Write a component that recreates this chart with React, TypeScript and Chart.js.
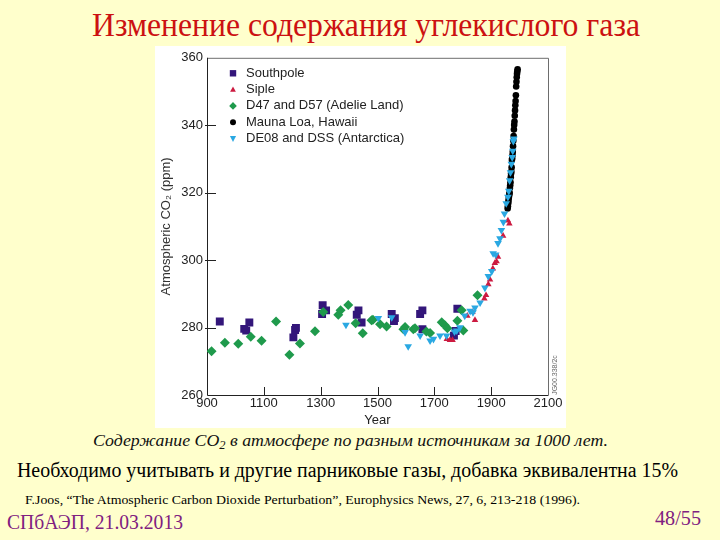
import React, { useEffect, useLayoutEffect, useRef } from 'react';
import { Chart, registerables } from 'chart.js';

Chart.register(...registerables);

// ---------- data ----------
const xTickValues = [900, 1100, 1300, 1500, 1700, 1900, 2100];
const yTickValues = [260, 280, 300, 320, 340, 360];

const southpoleYears = [945, 1031, 1038, 1049, 1204, 1210, 1213, 1305, 1307, 1319, 1427, 1433, 1444, 1550, 1558, 1561, 1650, 1658, 1658, 1769, 1775, 1781];
const southpoleCO2 = [281.8, 279.6, 279.1, 281.5, 277.1, 279.3, 279.9, 284.0, 286.6, 285.1, 283.8, 285.1, 281.5, 284.0, 281.9, 282.8, 284.0, 285.1, 279.5, 277.6, 279.0, 285.6];

const sipleYears = [1744, 1755, 1764, 1816, 1834, 1843, 1876, 1882, 1890, 1896, 1906, 1913, 1919, 1924, 1942, 1959, 1964];
const sipleCO2 = [276.6, 276.3, 276.3, 283.5, 284.6, 282.2, 288.6, 289.6, 292.8, 294.2, 297.5, 299.1, 299.6, 301.0, 307.2, 311.7, 310.8];

const adelieYears = [916, 963, 1010, 1054, 1092, 1143, 1190, 1227, 1280, 1309, 1362, 1370, 1397, 1423, 1448, 1479, 1484, 1509, 1532, 1591, 1597, 1626, 1632, 1672, 1685, 1726, 1737, 1746, 1781, 1796, 1802, 1852];
const adelieCO2 = [273.0, 275.5, 275.2, 277.3, 276.1, 281.8, 271.9, 275.3, 278.9, 284.6, 283.8, 285.1, 286.7, 281.3, 278.3, 282.2, 282.3, 281.0, 280.3, 279.5, 280.2, 279.5, 279.8, 278.8, 278.4, 281.6, 280.7, 279.8, 282.0, 285.1, 279.1, 289.6];

const maunaLoaYears = [1958, 1959, 1960, 1961, 1962, 1963, 1964, 1965, 1966, 1967, 1968, 1969, 1970, 1971, 1972, 1973, 1974, 1975, 1976, 1977, 1978, 1979, 1980, 1981, 1982, 1983, 1984, 1985, 1986, 1987, 1988, 1989, 1990, 1991, 1992, 1993];
const maunaLoaCO2 = [315.3, 316.0, 316.9, 317.6, 318.4, 319.0, 319.6, 320.0, 321.4, 322.2, 323.1, 324.6, 325.7, 326.3, 327.5, 329.7, 330.2, 331.1, 332.1, 333.8, 335.4, 336.8, 338.7, 340.1, 341.1, 342.8, 344.4, 345.9, 347.2, 348.9, 351.5, 352.9, 354.2, 355.3, 356.0, 356.6];

const de08Years = [1389, 1503, 1550, 1597, 1608, 1650, 1685, 1697, 1720, 1743, 1771, 1779, 1790, 1807, 1826, 1836, 1843, 1861, 1878, 1890, 1902, 1907, 1916, 1924, 1931, 1936, 1943, 1947, 1953, 1959, 1962, 1965, 1968, 1971, 1974, 1976, 1978, 1980];
const de08CO2 = [280.8, 282.8, 283.0, 278.6, 274.4, 277.6, 276.1, 276.6, 277.6, 277.6, 278.8, 279.1, 280.0, 283.5, 284.9, 284.5, 285.9, 287.4, 291.8, 295.2, 296.7, 302.0, 301.6, 305.0, 306.4, 308.9, 311.3, 313.8, 316.8, 318.7, 320.5, 323.6, 326.0, 328.5, 330.5, 332.4, 335.3, 336.0];

const seriesLabels = ['Southpole', 'Siple', 'D47 and D57 (Adelie Land)', 'Mauna Loa, Hawaii', 'DE08 and DSS (Antarctica)'];

const AXIS_FONT = "'Liberation Sans', Arial, sans-serif";

function pts(xs: number[], ys: number[]) {
  return xs.map((x, i) => ({ x, y: ys[i] }));
}

type Marker = 'rect' | 'tri' | 'diamond' | 'circle' | 'triDown';

function drawMarker(ctx: CanvasRenderingContext2D, kind: Marker, x: number, y: number, s: number, color: string) {
  ctx.save();
  ctx.fillStyle = color;
  ctx.beginPath();
  if (kind === 'rect') {
    ctx.rect(x - s, y - s, 2 * s, 2 * s);
  } else if (kind === 'circle') {
    ctx.arc(x, y, s, 0, Math.PI * 2);
  } else if (kind === 'diamond') {
    ctx.moveTo(x - s, y);
    ctx.lineTo(x, y - s);
    ctx.lineTo(x + s, y);
    ctx.lineTo(x, y + s);
    ctx.closePath();
  } else if (kind === 'tri') {
    ctx.moveTo(x, y - s);
    ctx.lineTo(x + s * 0.9, y + s * 0.7);
    ctx.lineTo(x - s * 0.9, y + s * 0.7);
    ctx.closePath();
  } else {
    ctx.moveTo(x, y + s);
    ctx.lineTo(x + s * 0.9, y - s * 0.7);
    ctx.lineTo(x - s * 0.9, y - s * 0.7);
    ctx.closePath();
  }
  ctx.fill();
  ctx.restore();
}

const COLORS = ['#33167a', '#cc1a40', '#1f9a4c', '#000000', '#2aa8e2'];
const LEGEND_MARKERS: Marker[] = ['rect', 'tri', 'diamond', 'circle', 'triDown'];
const LEGEND_SIZES = [3.2, 3.2, 3.8, 3, 3.4];

const framePlugin = {
  id: 'frameTicks',
  beforeDatasetsDraw(chart: any) {
    const { ctx, chartArea: a, scales } = chart;
    ctx.save();
    ctx.lineWidth = 1;
    ctx.strokeStyle = '#6d6d6d';
    ctx.beginPath();
    ctx.moveTo(a.left, a.top + 0.5);
    ctx.lineTo(a.right + 0.5, a.top + 0.5);
    ctx.lineTo(a.right + 0.5, a.bottom);
    ctx.stroke();
    ctx.strokeStyle = '#222';
    ctx.beginPath();
    ctx.moveTo(a.left + 0.5, a.top);
    ctx.lineTo(a.left + 0.5, a.bottom + 0.5);
    ctx.lineTo(a.right + 0.5, a.bottom + 0.5);
    ctx.stroke();
    ctx.beginPath();
    xTickValues.slice(1, -1).forEach((v) => {
      const px = Math.round(scales.x.getPixelForValue(v)) + 0.5;
      ctx.moveTo(px, a.bottom);
      ctx.lineTo(px, a.bottom - 8);
    });
    yTickValues.slice(1, -1).forEach((v) => {
      const py = Math.round(scales.y.getPixelForValue(v)) + 0.5;
      ctx.moveTo(a.left - 2, py);
      ctx.lineTo(a.left + 9, py);
    });
    ctx.stroke();
    ctx.restore();
  },
  afterDatasetsDraw(chart: any) {
    const { ctx, chartArea: a } = chart;
    ctx.save();
    ctx.font = `13px ${AXIS_FONT}`;
    ctx.textBaseline = 'middle';
    const mx = a.left + 26;
    const tx = a.left + 39;
    seriesLabels.forEach((lab, i) => {
      const y = a.top + 15.5 + i * 16.3;
      drawMarker(ctx, LEGEND_MARKERS[i], mx, y, LEGEND_SIZES[i], COLORS[i]);
      ctx.fillStyle = '#222';
      ctx.fillText(lab, tx, y);
    });
    ctx.translate(a.right + 7, a.bottom - 20);
    ctx.rotate(-Math.PI / 2);
    ctx.font = `7px ${AXIS_FONT}`;
    ctx.fillStyle = '#666';
    ctx.textAlign = 'center';
    ctx.fillText('JG00.338/2c', 0, 0);
    ctx.restore();
  },
};

function CO2Chart() {
  const ref = useRef<HTMLCanvasElement>(null);
  useEffect(() => {
    if (!ref.current) return;
    const common = { showLine: false, pointBorderWidth: 0, pointHoverRadius: 0 };
    const chart = new Chart(ref.current, {
      type: 'scatter',
      data: {
        datasets: [
          { ...common, label: seriesLabels[0], data: pts(southpoleYears, southpoleCO2), pointStyle: 'rect', pointRadius: 5.6, backgroundColor: COLORS[0], borderColor: COLORS[0], order: 5 },
          { ...common, label: seriesLabels[1], data: pts(sipleYears, sipleCO2), pointStyle: 'triangle', pointRadius: 3.8, backgroundColor: COLORS[1], borderColor: COLORS[1], order: 3 },
          { ...common, label: seriesLabels[2], data: pts(adelieYears, adelieCO2), pointStyle: 'rectRot', pointRadius: 5, backgroundColor: COLORS[2], borderColor: COLORS[2], order: 4 },
          { ...common, label: seriesLabels[3], data: pts(maunaLoaYears, maunaLoaCO2), pointStyle: 'circle', pointRadius: 3.3, backgroundColor: COLORS[3], borderColor: COLORS[3], order: 2 },
          { ...common, label: seriesLabels[4], data: pts(de08Years, de08CO2), pointStyle: 'triangle', rotation: 180, pointRadius: 4.4, backgroundColor: COLORS[4], borderColor: COLORS[4], order: 1 } as any,
        ],
      },
      options: {
        animation: false,
        responsive: false,
        maintainAspectRatio: false,
        events: [],
        layout: { padding: { left: 0, top: 8, right: 18, bottom: 0 } },
        plugins: { legend: { display: false }, tooltip: { enabled: false } },
        scales: {
          x: {
            type: 'linear',
            min: 900,
            max: 2100,
            afterBuildTicks: (s: any) => { s.ticks = xTickValues.map((v) => ({ value: v })); },
            afterFit: (s: any) => { s.height = 33; },
            grid: { display: false, drawTicks: false },
            border: { display: false },
            ticks: { autoSkip: false, maxRotation: 0, padding: 1, color: '#222', font: { family: AXIS_FONT, size: 13 }, callback: (v: any) => String(v) },
            title: { display: true, text: 'Year', color: '#222', padding: { top: 0, bottom: 0 }, font: { family: AXIS_FONT, size: 13 } },
          },
          y: {
            type: 'linear',
            min: 260,
            max: 360,
            afterBuildTicks: (s: any) => { s.ticks = yTickValues.map((v) => ({ value: v })); },
            afterFit: (s: any) => { s.width = 52; },
            grid: { display: false, drawTicks: false },
            border: { display: false },
            ticks: { autoSkip: false, padding: 4, color: '#222', font: { family: AXIS_FONT, size: 13 }, callback: (v: any) => String(v) },
            title: { display: true, text: 'Atmospheric CO\u2082 (ppm)', color: '#333', padding: { top: 4, bottom: 0 }, font: { family: AXIS_FONT, size: 13 } },
          },
        },
      } as any,
      plugins: [framePlugin],
    });
    return () => chart.destroy();
  }, []);
  return <canvas ref={ref} width={411} height={382} style={{ display: 'block', width: 411, height: 382 }} />;
}

function FitText(props: { left: number; top: number; width: number; style: React.CSSProperties; children: React.ReactNode }) {
  const ref = useRef<HTMLSpanElement>(null);
  useLayoutEffect(() => {
    const el = ref.current;
    if (!el) return;
    el.style.transform = 'none';
    const w = el.getBoundingClientRect().width;
    if (w > 0) el.style.transform = `scaleX(${props.width / w})`;
  }, [props.width]);
  return (
    <span
      ref={ref}
      style={{
        position: 'absolute',
        left: props.left,
        top: props.top,
        whiteSpace: 'nowrap',
        display: 'inline-block',
        transformOrigin: '0 0',
        lineHeight: 1,
        ...props.style,
      }}
    >
      {props.children}
    </span>
  );
}

const SERIF = "'Liberation Serif', 'Times New Roman', serif";

export default function App() {
  return (
    <div style={{ position: 'fixed', left: 0, top: 0, width: 720, height: 540, background: '#ffffcc', overflow: 'hidden', fontFamily: SERIF }}>
      <FitText left={92} top={8} width={548} style={{ fontSize: 34, color: '#cc1111' }}>
        Изменение содержания углекислого газа
      </FitText>
      <div style={{ position: 'absolute', left: 155, top: 46, width: 411, height: 382, background: '#ffffff' }}>
        <CO2Chart />
      </div>
      <FitText left={93} top={433} width={515} style={{ fontSize: 16.5, fontStyle: 'italic', color: '#111' }}>
        Содержание CO<sub style={{ fontSize: '0.7em', verticalAlign: '-0.3em', lineHeight: 0 }}>2</sub> в атмосфере по разным источникам за 1000 лет.
      </FitText>
      <FitText left={17} top={459.5} width={661} style={{ fontSize: 20, color: '#000' }}>
        Необходимо учитывать и другие парниковые газы, добавка эквивалентна 15%
      </FitText>
      <FitText left={25} top={494} width={555} style={{ fontSize: 12, color: '#000' }}>
        F.Joos, “The Atmospheric Carbon Dioxide Perturbation”, Europhysics News, 27, 6, 213-218 (1996).
      </FitText>
      <FitText left={7} top={511.7} width={176} style={{ fontSize: 21.5, color: '#802080' }}>
        СПбАЭП, 21.03.2013
      </FitText>
      <FitText left={655} top={508.4} width={46} style={{ fontSize: 21, color: '#802080' }}>
        48/55
      </FitText>
    </div>
  );
}
